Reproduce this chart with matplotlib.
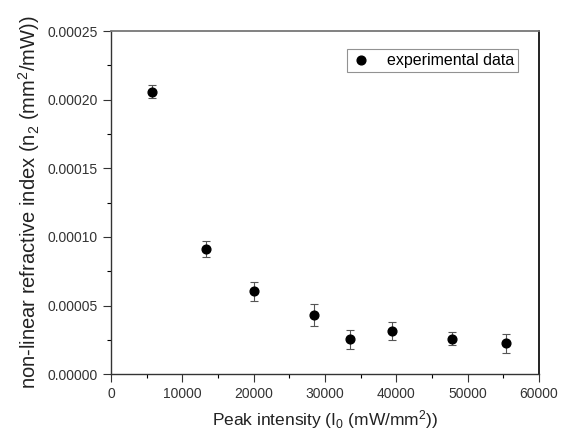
import numpy as np
import matplotlib
matplotlib.use('Agg')
import matplotlib.pyplot as plt
from matplotlib.ticker import MultipleLocator
from matplotlib.lines import Line2D

plt.rcParams['font.family'] = ['Liberation Sans', 'DejaVu Sans']
plt.rcParams['mathtext.fontset'] = 'custom'
plt.rcParams['mathtext.rm'] = 'Liberation Sans'
plt.rcParams['mathtext.it'] = 'Liberation Sans'

# Data
intensity = [5800, 13330, 20060, 28520, 33580, 39470, 47840, 55420]
n2 = [0.0002057, 0.0000909, 0.0000603, 0.0000432, 0.0000253, 0.0000313, 0.0000257, 0.0000224]
n2_err = [0.0000047, 0.0000058, 0.0000070, 0.0000082, 0.0000068, 0.0000068, 0.0000047, 0.0000068]

fig = plt.figure(figsize=(5.66, 4.32), dpi=100)
ax = fig.add_axes([0.196, 0.134, 0.756, 0.794])

ax.errorbar(intensity, n2, yerr=n2_err, fmt='o', color='black', markersize=6.3,
            ecolor='#555555', elinewidth=0.8, capsize=3, capthick=0.8)

ax.set_xlim(0, 60000)
ax.set_ylim(0, 0.00025)
ax.xaxis.set_major_locator(MultipleLocator(10000))
ax.xaxis.set_minor_locator(MultipleLocator(5000))
ax.yaxis.set_major_locator(MultipleLocator(0.00005))
ax.yaxis.set_minor_locator(MultipleLocator(0.000025))
ax.yaxis.set_major_formatter(plt.FuncFormatter(lambda v, p: '%.5f' % v))

ax.tick_params(which='major', direction='out', length=6, width=0.8, labelsize=10, colors='#333333')
ax.tick_params(which='minor', direction='out', length=3, width=0.8)
ax.tick_params(top=False, right=False)

for side in ['left', 'bottom']:
    ax.spines[side].set_color('#333333')
    ax.spines[side].set_linewidth(1.0)
ax.spines['top'].set_color('#777777')
ax.spines['top'].set_linewidth(1.3)
ax.spines['right'].set_color('#111111')
ax.spines['right'].set_linewidth(1.3)

ax.set_xlabel(r'Peak intensity (I$_0$ (mW/mm$^2$))', fontsize=12.5, color='#222222', labelpad=5)
ax.set_ylabel(r'non-linear refractive index (n$_2$ (mm$^2$/mW))', fontsize=14.5, color='#222222', labelpad=4)

proxy = Line2D([], [], marker='o', linestyle='none', color='black', markersize=6.3)
leg = ax.legend([proxy], ['experimental data'], loc='upper right', bbox_to_anchor=(0.951, 0.947),
                fontsize=11.5, frameon=True, fancybox=False, edgecolor='#777777',
                handlelength=1.2, handletextpad=1.0, borderpad=0.25, borderaxespad=0.0,
                numpoints=1)
leg.get_frame().set_linewidth(0.8)

fig.savefig('out.png', dpi=100)
